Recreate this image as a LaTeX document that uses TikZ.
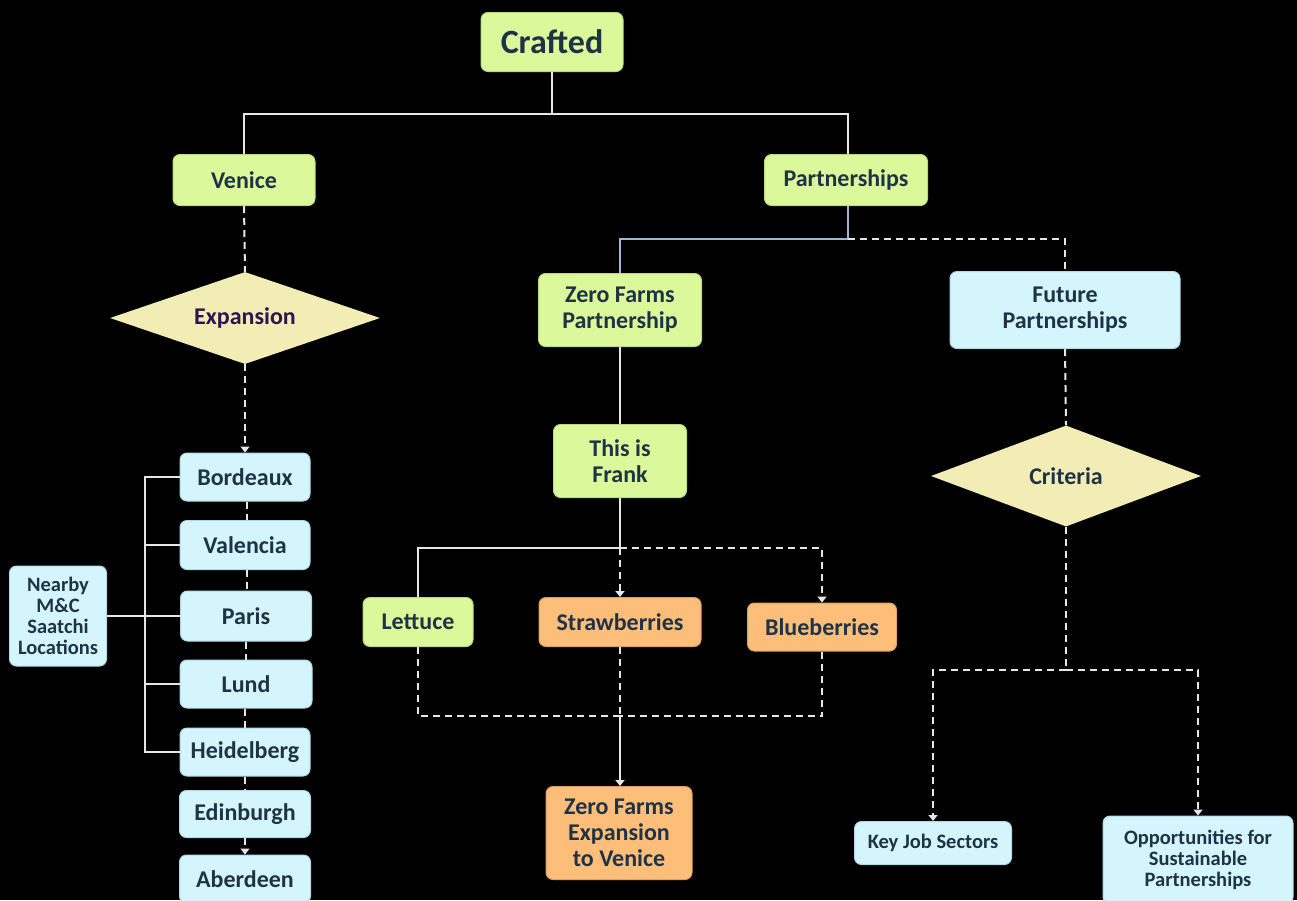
\documentclass[tikz,border=0pt]{standalone}
\usepackage{fontspec}
\setmainfont{Carlito}
\usetikzlibrary{shapes.geometric,arrows.meta}

\definecolor{ink}{HTML}{1F3347}
\definecolor{plum}{HTML}{2B1650}
\definecolor{leaf}{HTML}{DBF99B}
\definecolor{leafedge}{HTML}{B9DA7E}
\definecolor{peach}{HTML}{FDBE7A}
\definecolor{peachedge}{HTML}{E0A060}
\definecolor{sky}{HTML}{D5F5FD}
\definecolor{skyedge}{HTML}{B0D8E4}
\definecolor{sand}{HTML}{F1EDB5}
\definecolor{wire}{HTML}{E6E6E6}
\definecolor{steel}{HTML}{9FB6D6}

\tikzset{
  box/.style={rectangle, rounded corners=7pt, line width=1pt, align=center,
    text=ink, inner sep=2pt, font=\fontsize{24}{26}\selectfont\bfseries},
  smallbox/.style={box, font=\fontsize{20.5}{21}\selectfont\bfseries},
  green/.style={fill=leaf, draw=leafedge},
  orange/.style={fill=peach, draw=peachedge},
  blue/.style={fill=sky, draw=skyedge},
  decision/.style={diamond, aspect=3, fill=sand, draw=none, inner sep=0pt,
    text=ink, font=\fontsize{24}{26}\selectfont\bfseries},
  link/.style={draw=wire, line width=2pt},
  dlink/.style={draw=wire, line width=2pt, dash pattern=on 7pt off 5pt},
  tip/.style={-{Triangle[width=9pt,length=6pt]}}
}

\begin{document}
\begin{tikzpicture}[x=1pt,y=-1pt]
  \fill[black] (0,0) rectangle (1297,900);
  \useasboundingbox (0,0) rectangle (1297,900);

  % top level
  \node[box,green,minimum width=142pt,minimum height=59pt,
        font=\fontsize{34}{36}\selectfont\bfseries] (crafted) at (552,42) {Crafted};
  \node[box,green,minimum width=142pt,minimum height=51pt] (venice) at (244,180) {Venice};
  \node[box,green,minimum width=163pt,minimum height=51pt] (partner) at (846,180) {Partnerships};

  % Venice branch
  \node[decision,minimum width=270pt,minimum height=92pt,text=plum] (expansion) at (245,318) {Expansion};
  \node[box,blue,minimum width=130pt,minimum height=48pt] (bordeaux) at (245,477) {Bordeaux};
  \node[box,blue,minimum width=130pt,minimum height=49pt] (valencia) at (245,545) {Valencia};
  \node[box,blue,minimum width=131pt,minimum height=50pt] (paris) at (246,616) {Paris};
  \node[box,blue,minimum width=132pt,minimum height=48pt] (lund) at (246,684) {Lund};
  \node[box,blue,minimum width=130pt,minimum height=48pt] (heidelberg) at (245,752) {Heidelberg};
  \node[box,blue,minimum width=131pt,minimum height=47pt] (edinburgh) at (245,814) {Edinburgh};
  \node[box,blue,minimum width=131pt,minimum height=48pt] (aberdeen) at (245,879) {Aberdeen};
  \node[smallbox,blue,minimum width=97pt,minimum height=100pt,inner sep=1pt] (nearby) at (58,616)
        {Nearby\\M\&C\\Saatchi\\Locations};

  % Partnerships branch
  \node[box,green,minimum width=163pt,minimum height=73pt] (zfp) at (620,310) {Zero Farms\\Partnership};
  \node[box,green,minimum width=133pt,minimum height=73pt] (frank) at (620,461) {This is\\Frank};
  \node[box,green,minimum width=110pt,minimum height=49pt] (lettuce) at (418,622) {Lettuce};
  \node[box,orange,minimum width=162pt,minimum height=49pt] (straw) at (620,622) {Strawberries};
  \node[box,orange,minimum width=149pt,minimum height=48pt] (blueb) at (822,627) {Blueberries};
  \node[box,orange,minimum width=146pt,minimum height=93pt] (zfe) at (619,833) {Zero Farms\\Expansion\\to Venice};

  \node[box,blue,minimum width=230pt,minimum height=77pt] (future) at (1065,310) {Future\\Partnerships};
  \node[decision,minimum width=270pt,minimum height=101pt] (criteria) at (1066,476) {Criteria};
  \node[smallbox,blue,minimum width=157pt,minimum height=43pt] (keyjob) at (933,843) {Key Job Sectors};
  \node[smallbox,blue,minimum width=190pt,minimum height=88pt] (opp) at (1198,860)
        {Opportunities for\\Sustainable\\Partnerships};

  % junction points
  \coordinate (topbus) at (552,114);
  \coordinate (pbus) at (848,239);
  \coordinate (brk) at (145,616);
  \coordinate (fbus) at (620,548);
  \coordinate (mbus) at (620,716);
  \coordinate (cbus) at (1066,670);

  % Crafted to its two branches
  \draw[link] (crafted.south) -- (topbus) -| ([xshift=2pt]partner.north);
  \draw[link] (topbus) -| (venice.north);

  % Venice chain
  \draw[dlink] (venice.south) -- (expansion.north);
  \draw[dlink,tip] (expansion.south) -- (bordeaux.north);
  \draw[dlink] ([xshift=2pt]bordeaux.south) -- ([xshift=2pt]valencia.north);
  \draw[dlink] ([xshift=2pt]valencia.south) -- ([xshift=1pt]paris.north);
  \draw[dlink] (paris.south) -- (lund.north);
  \draw[dlink] ([xshift=-1pt]lund.south) -- (heidelberg.north);
  \draw[dlink] (heidelberg.south) -- (edinburgh.north);
  \draw[dlink,tip] (edinburgh.south) -- (aberdeen.north);

  % locations bracket
  \draw[link] (nearby.east) -- (paris.west);
  \draw[link] (bordeaux.west) -- (bordeaux.west -| brk) -- (heidelberg.west -| brk) -- (heidelberg.west);
  \draw[link] (valencia.west -| brk) -- (valencia.west);
  \draw[link] (lund.west -| brk) -- (lund.west);

  % Partnerships branch
  \draw[link,draw=steel] ([xshift=2pt]partner.south) -- (pbus) -| (zfp.north);
  \draw[dlink] (pbus) -| (future.north);
  \draw[link] (zfp.south) -- (frank.north);
  \draw[link] (frank.south) -- (fbus) -| (lettuce.north);
  \draw[dlink,tip] (fbus) -- (straw.north);
  \draw[dlink,tip] (fbus) -| (blueb.north);
  \draw[dlink] (lettuce.south) |- (mbus);
  \draw[dlink] (blueb.south) |- (mbus);
  \draw[dlink] (straw.south) -- (mbus);
  \draw[link,tip] (mbus) -- (zfe.north -| mbus);

  % Future partnerships
  \draw[dlink] (future.south) -- (criteria.north);
  \draw[dlink] (criteria.south) -- (cbus);
  \draw[dlink,tip] (cbus) -| (keyjob.north);
  \draw[dlink,tip] (cbus) -| (opp.north);
\end{tikzpicture}
\end{document}
